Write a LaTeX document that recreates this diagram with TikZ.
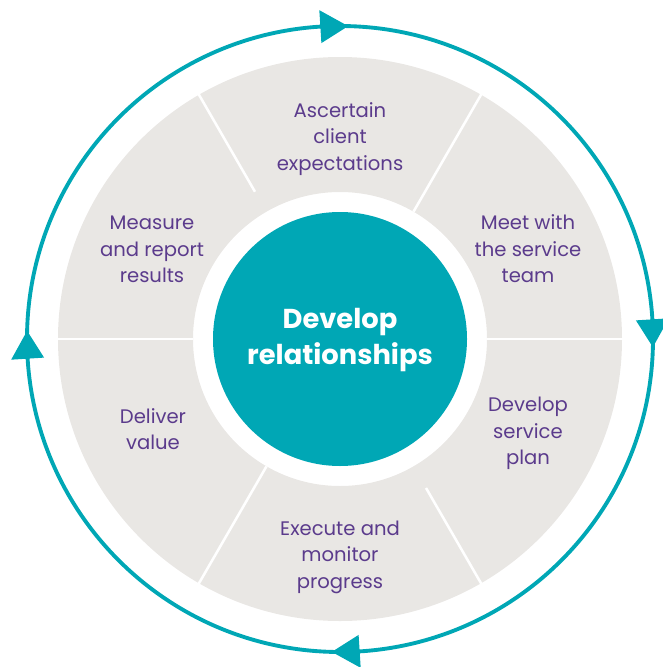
\documentclass[tikz,border=0pt]{standalone}
\usepackage{fontspec}
\usetikzlibrary{calc}
\setmainfont{Poppins}
\definecolor{teal1}{HTML}{00A7B5}
\definecolor{gray1}{HTML}{E9E7E4}
\definecolor{purp}{HTML}{5B3B8C}
\begin{document}
\begin{tikzpicture}[x=0.75pt,y=0.75pt,
  seglabel/.style={text=purp,align=center,inner sep=0pt,font=\fontsize{14.7}{19.9}\selectfont},
  sepline/.style={white,line width=1.9pt},
  ringline/.style={teal1,line width=2.9pt},
  arrowtri/.style={fill=teal1,draw=none}]
\useasboundingbox (0,0) rectangle (662,-667);
\coordinate (C) at (340,-339);
% outer ring
\draw[ringline] (C) circle (313);
\foreach \a in {90,0,180,270}{
  \fill[arrowtri] ($(C)+(\a-1.5:313)$) -- ($(C)+(\a+3.6:329.5)$) -- ($(C)+(\a+3.6:296.5)$) -- cycle;
}
% gray annulus
\fill[gray1,even odd rule] (C) circle (282) (C) circle (147);
% separators
\foreach \a/\r in {0/147,60/147,120/170,180/147,240/147,300/172}{
  \draw[sepline] ($(C)+(\a:\r)$) -- ($(C)+(\a:283)$);
}
% center
\node[circle,fill=teal1,minimum size=190.5pt,inner sep=0pt] (hub) at (C) {};
\node[text=white,align=center,inner sep=0pt,font=\fontsize{20.5}{27}\selectfont\bfseries] (hubtext) at (340,-340) {Develop\\relationships};
% labels
\node[seglabel] (s1) at (340,-139) {Ascertain\\client\\expectations};
\node[seglabel] (s2) at (528,-249) {Meet with\\the service\\team};
\node[seglabel] (s3) at (528,-433.5) {Develop\\service\\plan};
\node[seglabel] (s4) at (340,-557) {Execute and\\monitor\\progress};
\node[seglabel] (s5) at (153,-429) {Deliver\\value};
\node[seglabel] (s6) at (152,-249.5) {Measure\\and report\\results};
\end{tikzpicture}
\end{document}
